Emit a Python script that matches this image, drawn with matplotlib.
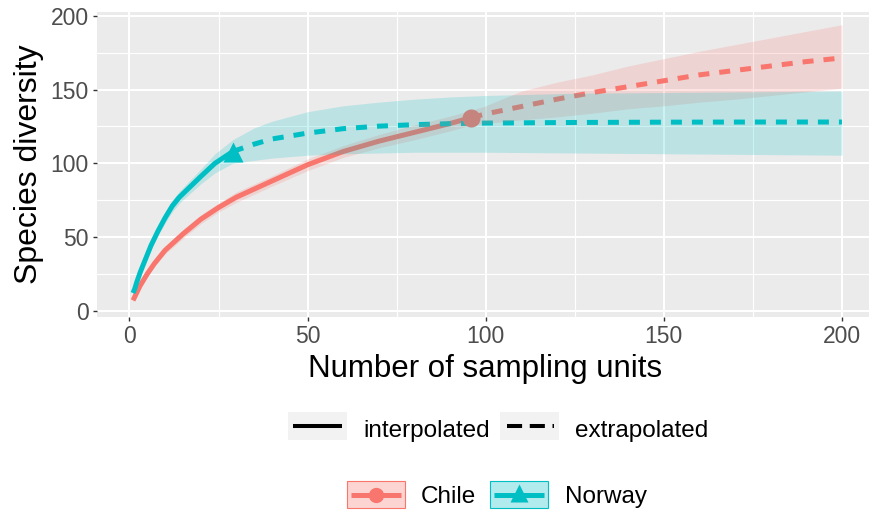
import matplotlib
matplotlib.use("Agg")
import matplotlib.pyplot as plt
from matplotlib.lines import Line2D
from matplotlib.patches import Rectangle

plt.rcParams['font.family'] = ['Liberation Sans', 'DejaVu Sans']

# ---------------- data ----------------
chile_interp_x = [1, 2, 3, 5, 7, 10, 15, 20, 25, 30, 40, 50, 60, 70, 80, 90, 96]
chile_interp_y = [7, 12, 17, 25, 32, 41, 52, 62, 70, 77, 88, 99, 108, 115, 121, 127, 131]
chile_interp_lo = [6, 11, 15.5, 23, 30, 38.5, 49, 59, 67, 73.5, 84.5, 95, 104, 110.5, 116, 122, 126]
chile_interp_hi = [8, 13, 18.5, 27, 34, 43.5, 55, 65, 73, 80.5, 91.5, 103, 112, 119.5, 126, 132, 136]

chile_extrap_x = [96, 100, 110, 120, 130, 140, 150, 160, 170, 180, 190, 200]
chile_extrap_y = [131, 133.5, 138.5, 143.5, 148, 152, 156, 160, 163, 166, 169, 171.5]
chile_extrap_lo = [126, 127, 129.5, 131.5, 134, 137, 139, 141.5, 143.5, 146, 148.5, 151]
chile_extrap_hi = [136, 139, 149, 155, 160, 166, 171, 176, 180.5, 185, 189.5, 194]

norway_interp_x = [1, 1.5, 2, 3, 4, 5, 6, 7, 8, 10, 12, 14, 17, 20, 24, 29]
norway_interp_y = [12, 15, 19, 26, 32, 38, 44, 49, 54, 63, 71, 77, 84, 91, 100, 108]
norway_interp_lo = [11, 14, 17.5, 24.5, 30, 36, 41.5, 46.5, 51, 59.5, 67, 73, 79.5, 86, 93.5, 100]
norway_interp_hi = [13, 16, 20.5, 27.5, 34, 40, 46.5, 51.5, 57, 66.5, 75, 81, 88.5, 96, 106.5, 116]

norway_extrap_x = [29, 35, 40, 50, 60, 70, 80, 90, 100, 125, 150, 175, 200]
norway_extrap_y = [108, 113, 116.5, 120.5, 123.5, 125.2, 126.2, 126.9, 127.3, 127.7, 127.9, 128, 128]
norway_extrap_lo = [100, 102, 103.5, 105.5, 106.5, 107, 107.5, 107.5, 107.5, 107, 106.5, 106, 105.5]
norway_extrap_hi = [116, 124, 128.5, 135, 139, 141.5, 143.5, 145, 146, 147.5, 148, 148.5, 149]

chile_obs_x, chile_obs_y = 96, 131
norway_obs_x, norway_obs_y = 29, 108

sites = ["Chile", "Norway"]
method_labels = ["interpolated", "extrapolated"]
x_ticks = [0, 50, 100, 150, 200]
y_ticks = [0, 50, 100, 150, 200]

C_CHILE = "#F8766D"
C_NORWAY = "#00BFC4"

W, H = 870, 514
fig = plt.figure(figsize=(W / 100, H / 100), dpi=100)

def fx(x):
    return x / W

def fy(y):
    return 1 - y / H

# panel
left, right, top, bottom = 96.7, 869, 11.7, 316.7
ax = fig.add_axes([fx(left), fy(bottom), fx(right) - fx(left), fy(top) - fy(bottom)])
ax.set_facecolor("#EBEBEB")
for s in ax.spines.values():
    s.set_visible(False)
ax.set_xlim(-9.2, 207.6)
ax.set_ylim(-4.07, 202.85)
ax.set_xticks(x_ticks)
ax.set_yticks(y_ticks)
ax.set_xticks([25, 75, 125, 175], minor=True)
ax.set_yticks([25, 75, 125, 175], minor=True)
ax.grid(which="major", color="white", lw=1.5, zorder=0)
ax.grid(which="minor", color="white", lw=0.8, zorder=0)
ax.set_axisbelow(True)
ax.tick_params(which="major", length=3.2, width=1.0, color="#333333",
               labelsize=16.5, labelcolor="#4D4D4D", pad=2.5)
ax.tick_params(which="minor", length=0)

lw = 3.6
# lines
ax.plot(chile_interp_x, chile_interp_y, color=C_CHILE, lw=lw, solid_capstyle="butt",
        solid_joinstyle="round", zorder=3)
ax.plot(norway_interp_x, norway_interp_y, color=C_NORWAY, lw=lw, solid_capstyle="butt",
        solid_joinstyle="round", zorder=3)
ax.plot(chile_extrap_x, chile_extrap_y, color=C_CHILE, lw=lw, dashes=(2.2, 2.0),
        dash_capstyle="butt", zorder=3)
ax.plot(norway_extrap_x, norway_extrap_y, color=C_NORWAY, lw=lw, dashes=(2.2, 2.0),
        dash_capstyle="butt", zorder=3)
# observed points
ax.plot([chile_obs_x], [chile_obs_y], marker="o", ms=13, color=C_CHILE, mec="none", zorder=4)
ax.plot([norway_obs_x], [norway_obs_y], marker="^", ms=15, color=C_NORWAY, mec="none", zorder=4)

# ribbons on top (alpha)
ax.fill_between(chile_interp_x, chile_interp_lo, chile_interp_hi, color=C_CHILE, alpha=0.2, lw=0, zorder=5)
ax.fill_between(chile_extrap_x, chile_extrap_lo, chile_extrap_hi, color=C_CHILE, alpha=0.2, lw=0, zorder=5)
ax.fill_between(norway_interp_x, norway_interp_lo, norway_interp_hi, color=C_NORWAY, alpha=0.2, lw=0, zorder=5)
ax.fill_between(norway_extrap_x, norway_extrap_lo, norway_extrap_hi, color=C_NORWAY, alpha=0.2, lw=0, zorder=5)

# axis titles
fig.text(fx(485.5), fy(377), "Number of sampling units", fontsize=22.5,
         ha="center", va="baseline", color="black")
fig.text(fx(29), fy(164), "Species diversity", fontsize=23, rotation=90,
         ha="center", va="center", color="black")

# ---------------- legends ----------------
T = fig.transFigure

def rect(x0, y0, x1, y1, fc, ec="none", lw_=0, alpha=1.0):
    fig.add_artist(Rectangle((fx(x0), fy(y1)), fx(x1) - fx(x0), fy(y0) - fy(y1),
                             transform=T, facecolor=fc, edgecolor=ec, lw=lw_, alpha=alpha))

# linetype legend
rect(288, 412, 347, 440, "#F2F2F2")
fig.add_artist(Line2D([fx(293), fx(342)], [fy(426), fy(426)], transform=T,
                      color="black", lw=2.9, solid_capstyle="butt"))
fig.text(fx(363), fy(436.5), method_labels[0], fontsize=17.5, ha="left", va="baseline")
rect(500, 412, 559, 440, "#F2F2F2")
fig.add_artist(Line2D([fx(506.7), fx(554)], [fy(426), fy(426)], transform=T,
                      color="black", lw=2.9, dashes=(3.75, 1.9), dash_capstyle="butt"))
fig.text(fx(575), fy(436.5), method_labels[1], fontsize=17.5, ha="left", va="baseline")

# site legend
rect(347, 481, 405, 508, "white")
rect(347, 481, 405, 508, C_CHILE, alpha=0.3)
rect(347, 481, 405, 508, "none", ec=C_CHILE, lw_=0.8)
fig.add_artist(Line2D([fx(351), fx(401)], [fy(494.5), fy(494.5)], transform=T,
                      color=C_CHILE, lw=3.6, solid_capstyle="butt"))
fig.add_artist(Line2D([fx(376)], [fy(494.5)], transform=T, marker="o", ms=11,
                      color=C_CHILE, mec="none", lw=0))
fig.text(fx(421), fy(503), sites[0], fontsize=17.5, ha="left", va="baseline")

rect(490, 481, 548, 508, "white")
rect(490, 481, 548, 508, C_NORWAY, alpha=0.3)
rect(490, 481, 548, 508, "none", ec=C_NORWAY, lw_=0.8)
fig.add_artist(Line2D([fx(494), fx(544)], [fy(494.5), fy(494.5)], transform=T,
                      color=C_NORWAY, lw=3.6, solid_capstyle="butt"))
fig.add_artist(Line2D([fx(519)], [fy(492.5)], transform=T, marker="^", ms=13,
                      color=C_NORWAY, mec="none", lw=0))
fig.text(fx(565), fy(503), sites[1], fontsize=17.5, ha="left", va="baseline")

fig.savefig("out.png", dpi=100, facecolor="white")
